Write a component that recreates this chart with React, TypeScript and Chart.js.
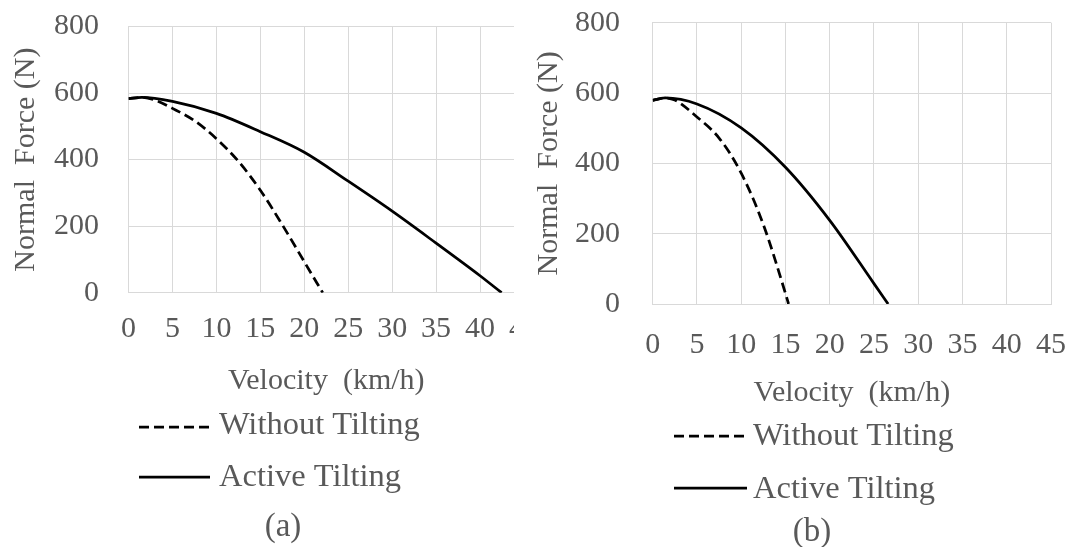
import React, { useEffect, useRef } from 'react';
import { Chart, registerables } from 'chart.js';

Chart.register(...registerables);

const FONT = "'Liberation Serif', 'Times New Roman', serif";
const TEXT = '#595959';
const GRID = '#d9d9d9';

const seriesNames = ['Without Tilting', 'Active Tilting'];
const xTitle = 'Velocity  (km/h)';
const yTitle = 'Normal  Force (N)';
const captions = ['(a)', '(b)'];

// Chart (a)
const aWithoutX = [0, 1.5, 3, 5, 7.5, 10, 12.5, 15, 17.5, 20, 22.1];
const aWithoutY = [583, 587, 579, 554, 517, 463, 395, 308, 204, 93, 0];
const aActiveX = [0, 1.5, 5, 10, 15, 20, 25, 30, 35, 40, 42.45];
const aActiveY = [583, 587, 575, 539, 484, 422, 335, 245, 149, 51, 0];

// Chart (b)
const bWithoutX = [0, 1.4, 2.5, 5, 7.5, 10, 12.5, 15, 15.35];
const bWithoutY = [579, 586, 580, 532, 472, 372, 226, 30, 0];
const bActiveX = [0, 1.4, 5, 10, 15, 20, 25, 26.6];
const bActiveY = [579, 586, 569, 501, 389, 238, 58, 0];

const xMin = 0;
const xMax = 45;
const xStep = 5;
const yMin = 0;
const yMax = 800;
const yStep = 200;

const toPoints = (xs: number[], ys: number[]) => xs.map((x, i) => ({ x, y: ys[i] }));

const legendCaptionPlugin = {
  id: 'legendCaption',
  afterDraw(chart: any, _args: any, opts: any) {
    const ctx = chart.ctx;
    ctx.save();
    chart.data.datasets.forEach((ds: any, i: number) => {
      const row = opts.rows[i];
      ctx.beginPath();
      ctx.setLineDash(ds.borderDash || []);
      ctx.lineWidth = ds.borderWidth;
      ctx.strokeStyle = ds.borderColor;
      ctx.moveTo(opts.lineX0, row.lineY);
      ctx.lineTo(opts.lineX1, row.lineY);
      ctx.stroke();
      ctx.setLineDash([]);
      ctx.font = `${opts.fontSize}px ${FONT}`;
      ctx.fillStyle = TEXT;
      ctx.textBaseline = 'alphabetic';
      ctx.textAlign = 'left';
      ctx.fillText(ds.label, opts.textX, row.baseY);
    });
    ctx.font = `${opts.capSize}px ${FONT}`;
    ctx.fillStyle = TEXT;
    ctx.textAlign = 'center';
    ctx.textBaseline = 'alphabetic';
    ctx.fillText(opts.caption, opts.capX, opts.capY);
    ctx.restore();
  },
};

type PanelProps = {
  left: number;
  clipWidth: number;
  width: number;
  withoutX: number[];
  withoutY: number[];
  activeX: number[];
  activeY: number[];
  layout: any;
};

function Panel(p: PanelProps) {
  const ref = useRef<HTMLCanvasElement | null>(null);
  useEffect(() => {
    const L = p.layout;
    const chart = new Chart(ref.current as HTMLCanvasElement, {
      type: 'line',
      data: {
        datasets: [
          {
            label: seriesNames[0],
            data: toPoints(p.withoutX, p.withoutY),
            borderColor: '#000000',
            borderWidth: 2.75,
            borderDash: [10, 5],
            pointRadius: 0,
            cubicInterpolationMode: 'monotone',
            fill: false,
          },
          {
            label: seriesNames[1],
            data: toPoints(p.activeX, p.activeY),
            borderColor: '#000000',
            borderWidth: 2.75,
            pointRadius: 0,
            cubicInterpolationMode: 'monotone',
            fill: false,
          },
        ],
      },
      options: {
        responsive: false,
        animation: false,
        devicePixelRatio: 1,
        layout: { padding: { top: L.top, right: L.right, bottom: 0, left: 0 } },
        plugins: {
          legend: { display: false },
          tooltip: { enabled: false },
          legendCaption: L.legend,
        } as any,
        scales: {
          x: {
            type: 'linear',
            min: xMin,
            max: xMax,
            border: { color: GRID, width: 1 },
            grid: { color: GRID, lineWidth: 1, drawTicks: false },
            ticks: {
              stepSize: xStep,
              color: TEXT,
              padding: L.xTickPad,
              maxRotation: 0,
              autoSkip: false,
              font: { family: FONT, size: 30 },
            },
            title: {
              display: true,
              text: xTitle,
              color: TEXT,
              font: { family: FONT, size: 30 },
              padding: { top: 0, bottom: L.xTitlePad },
            },
            afterFit: (s: any) => {
              s.height = L.xHeight;
              s.paddingLeft = 0;
              s.paddingRight = 0;
            },
          },
          y: {
            type: 'linear',
            min: yMin,
            max: yMax,
            border: { color: GRID, width: 1 },
            grid: { color: GRID, lineWidth: 1, drawTicks: false },
            ticks: {
              stepSize: yStep,
              color: TEXT,
              padding: L.yTickPad,
              font: { family: FONT, size: 30 },
            },
            title: {
              display: true,
              text: yTitle,
              color: TEXT,
              font: { family: FONT, size: 30 },
              padding: { top: L.yTitlePad, bottom: 0 },
            },
            afterFit: (s: any) => {
              s.width = L.yWidth;
              s.paddingTop = 0;
              s.paddingBottom = 0;
            },
          },
        },
      },
      plugins: [legendCaptionPlugin],
    } as any);
    return () => chart.destroy();
  }, []);
  return (
    <div
      style={{
        position: 'absolute',
        left: p.left,
        top: 0,
        width: p.clipWidth,
        height: 547,
        overflow: 'hidden',
      }}
    >
      <canvas ref={ref} width={p.width} height={547} style={{ display: 'block', width: p.width, height: 547 }} />
    </div>
  );
}

const layoutA = {
  top: 26.5,
  right: 21,
  yWidth: 128.5,
  xHeight: 254.3,
  xTickPad: 18.5,
  xTitlePad: 148,
  yTickPad: 29.5,
  yTitlePad: 8,
  legend: {
    lineX0: 139,
    lineX1: 210,
    textX: 219,
    fontSize: 32.5,
    rows: [
      { lineY: 427, baseY: 433.5 },
      { lineY: 477, baseY: 486 },
    ],
    caption: captions[0],
    capX: 283,
    capY: 536,
    capSize: 33,
  },
};

const layoutB = {
  top: 22.7,
  right: 19,
  yWidth: 122.7,
  xHeight: 243,
  xTickPad: 23,
  xTitlePad: 136,
  yTickPad: 32.7,
  yTitlePad: 1.5,
  legend: {
    lineX0: 144,
    lineX1: 217,
    textX: 223,
    fontSize: 32.5,
    rows: [
      { lineY: 436, baseY: 445 },
      { lineY: 488, baseY: 498 },
    ],
    caption: captions[1],
    capX: 282,
    capY: 541,
    capSize: 33,
  },
};

export default function App() {
  return (
    <div style={{ position: 'absolute', left: 0, top: 0, width: 1070, height: 547, background: '#ffffff', overflow: 'hidden' }}>
      <Panel
        left={0}
        clipWidth={514}
        width={545}
        withoutX={aWithoutX}
        withoutY={aWithoutY}
        activeX={aActiveX}
        activeY={aActiveY}
        layout={layoutA}
      />
      <Panel
        left={530}
        clipWidth={540}
        width={540}
        withoutX={bWithoutX}
        withoutY={bWithoutY}
        activeX={bActiveX}
        activeY={bActiveY}
        layout={layoutB}
      />
    </div>
  );
}
